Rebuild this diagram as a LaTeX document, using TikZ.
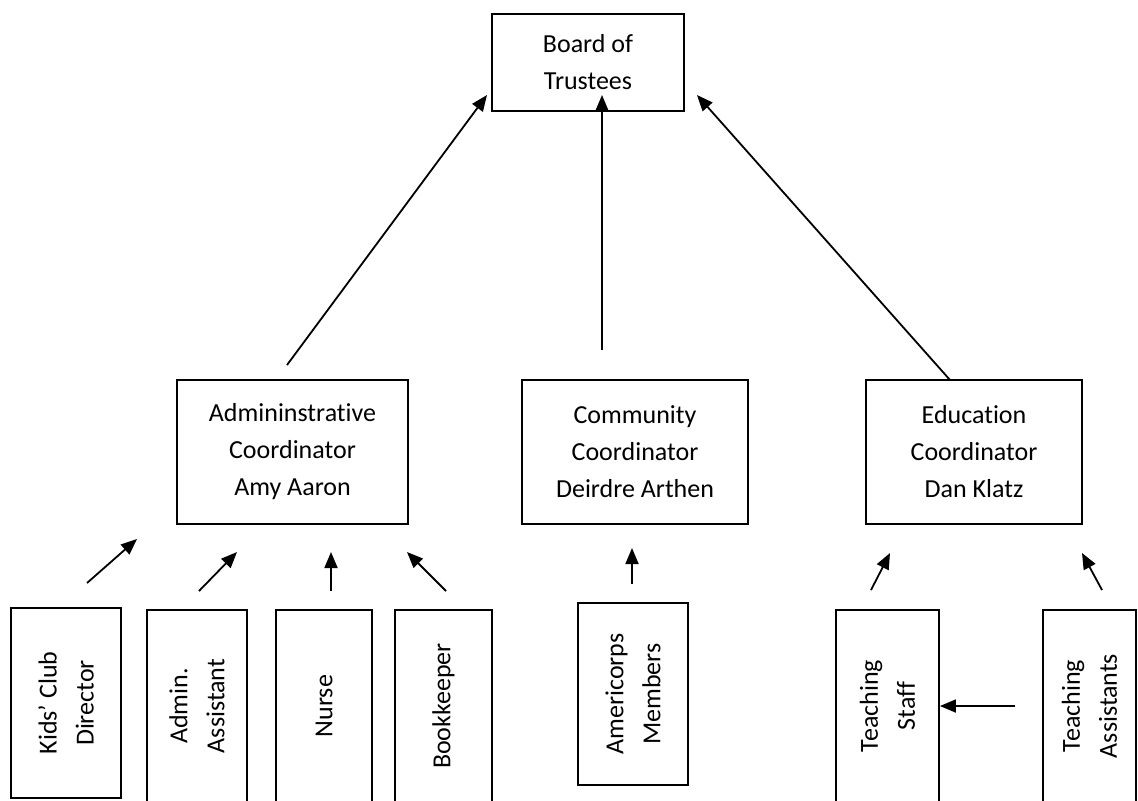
\documentclass[tikz,border=0pt]{standalone}
\usepackage{fontspec}
\setmainfont{Carlito}[Ligatures=NoCommon]
\usetikzlibrary{arrows.meta}

\begin{document}
\begin{tikzpicture}[
    x=0.5pt, y=-0.5pt,
    >={Triangle[length=8pt,width=6.5pt]},
    line width=0.9pt,
    org_box/.style={draw, rectangle, align=center, inner sep=0pt, font=\fontsize{13}{18.5}\selectfont},
    staff_box/.style={org_box, rotate=90},
    report_edge/.style={->}
]
\useasboundingbox (0,0) rectangle (1138,800);

% --- NODES ---
\node[org_box, minimum width=96pt, minimum height=48.5pt] (board) at (588,62.5) {Board of\\Trustees};

\node[org_box, minimum width=115.5pt, minimum height=72pt] (admin) at (292.5,452) {Admininstrative\\Coordinator\\Amy Aaron};
\node[org_box, minimum width=113pt, minimum height=72pt] (community) at (635,452) {Community\\Coordinator\\Deirdre Arthen};
\node[org_box, minimum width=108pt, minimum height=72pt] (education) at (974,452) {Education\\Coordinator\\Dan Klatz};

% staff boxes (rotated, so width is the vertical side)
\node[staff_box, minimum width=95pt, minimum height=55pt] (kids) at (66,703) {Kids’ Club\\Director};
\node[staff_box, minimum width=96pt, minimum height=50pt] (assistant) at (197,706) {Admin.\\Assistant};
\node[staff_box, minimum width=96pt, minimum height=48pt] (nurse) at (324,706) {Nurse};
\node[staff_box, minimum width=96pt, minimum height=48.5pt] (bookkeeper) at (443.5,706) {Bookkeeper};
\node[staff_box, minimum width=91pt, minimum height=55pt] (americorps) at (633,694) {Americorps\\Members};
\node[staff_box, minimum width=96pt, minimum height=51.5pt] (teachers) at (887.5,706) {Teaching\\Staff};
\node[staff_box, minimum width=96pt, minimum height=46.5pt] (tas) at (1089.5,706) {Teaching\\Assistants};

% free ends of the arrows
\coordinate (admin_top) at (287,365);
\coordinate (community_top) at (602,350);
\coordinate (education_top) at (950,380);
\coordinate (board_left) at (487,95);
\coordinate (board_mid) at (602,95);
\coordinate (board_right) at (697,95);

\coordinate (kids_tail) at (87,583);
\coordinate (kids_tip) at (137,539);
\coordinate (assistant_tail) at (199,591);
\coordinate (assistant_tip) at (237,552);
\coordinate (nurse_tail) at (331,591);
\coordinate (nurse_tip) at (331,552);
\coordinate (bookkeeper_tail) at (446,591);
\coordinate (bookkeeper_tip) at (407,552);
\coordinate (americorps_tail) at (632,584);
\coordinate (americorps_tip) at (632,548);
\coordinate (teachers_tail) at (871,590);
\coordinate (teachers_tip) at (890,553);
\coordinate (tas_tail) at (1102,590);
\coordinate (tas_tip) at (1082,553);
\coordinate (tas_left) at (1015,706);

% --- EDGES ---
\draw[report_edge] (admin_top) -- (board_left);
\draw[report_edge] (community_top) -- (board_mid);
\draw[report_edge] (education_top) -- (board_right);

\draw[report_edge] (kids_tail) -- (kids_tip);
\draw[report_edge] (assistant_tail) -- (assistant_tip);
\draw[report_edge] (nurse_tail) -- (nurse_tip);
\draw[report_edge] (bookkeeper_tail) -- (bookkeeper_tip);
\draw[report_edge] (americorps_tail) -- (americorps_tip);
\draw[report_edge] (teachers_tail) -- (teachers_tip);
\draw[report_edge] (tas_tail) -- (tas_tip);

\draw[report_edge] (tas_left) -- (teachers.south);

\end{tikzpicture}
\end{document}
